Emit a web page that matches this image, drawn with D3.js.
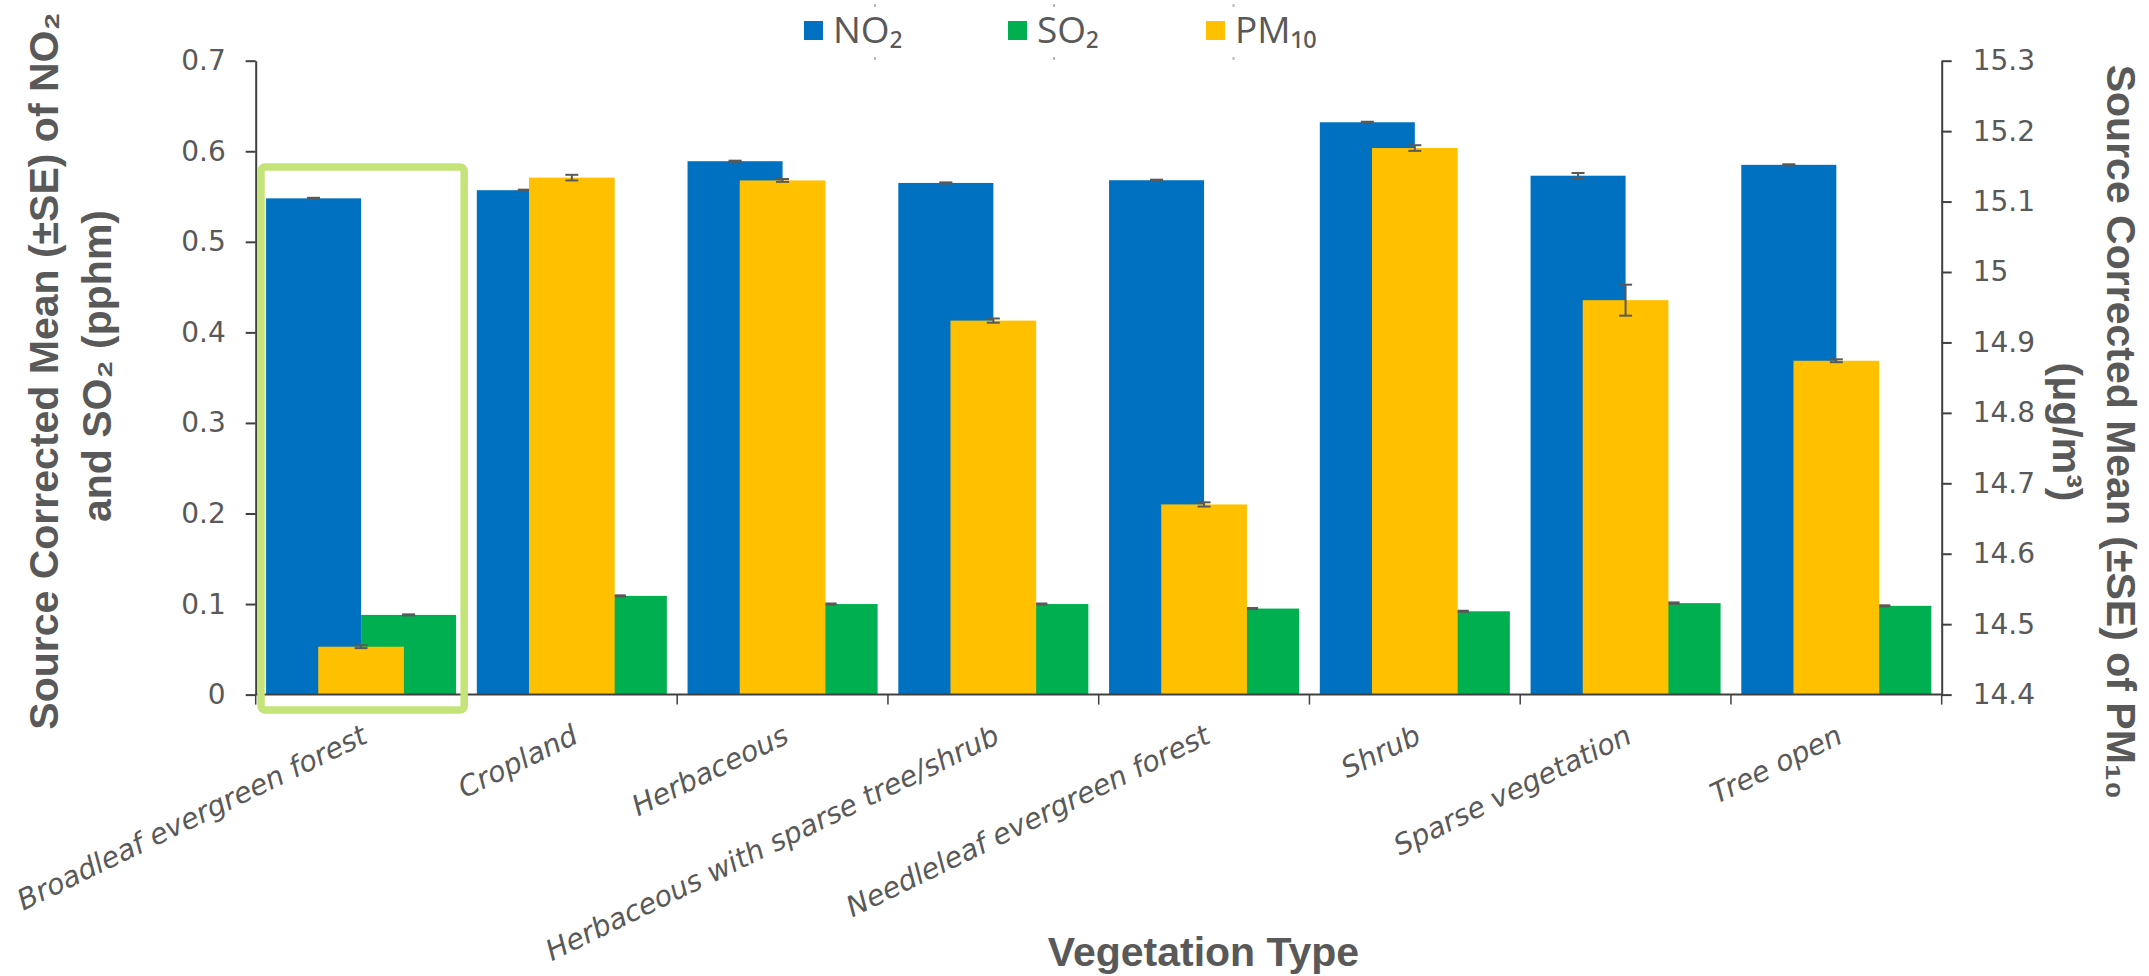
<!DOCTYPE html>
<html>
<head>
<meta charset="utf-8">
<script src="https://cdn.jsdelivr.net/npm/d3@7"></script>
<style>
  html, body { margin: 0; padding: 0; background: #ffffff; }
  svg { display: block; }
</style>
</head>
<body>
<svg id="chart" width="2149" height="976"></svg>
<script>
// Vegetation types along the category axis
const categories = [
  "Broadleaf evergreen forest",
  "Cropland",
  "Herbaceous",
  "Herbaceous with sparse tree/shrub",
  "Needleleaf evergreen forest",
  "Shrub",
  "Sparse vegetation",
  "Tree open"
];

// Source corrected means (pphm) on the left axis
const no2 = [0.548, 0.557, 0.589, 0.565, 0.568, 0.632, 0.573, 0.585];
const no2Se = [0.0006, 0.0006, 0.0006, 0.0006, 0.0006, 0.0006, 0.003, 0.0006];
const so2 = [0.088, 0.109, 0.100, 0.100, 0.095, 0.092, 0.101, 0.098];
const so2Se = [0.0006, 0.0006, 0.0006, 0.0006, 0.0006, 0.0006, 0.0008, 0.0006];

// Source corrected means (µg/m³) on the right axis
const pm10 = [14.468, 15.134, 15.130, 14.931, 14.670, 15.176, 14.960, 14.874];
const pm10Se = [0.002, 0.004, 0.002, 0.003, 0.003, 0.004, 0.022, 0.002];

// Axis ticks
const leftTicks = [0, 0.1, 0.2, 0.3, 0.4, 0.5, 0.6, 0.7];
const rightTicks = [14.4, 14.5, 14.6, 14.7, 14.8, 14.9, 15, 15.1, 15.2, 15.3];

// Category singled out with a frame
const highlighted = "Broadleaf evergreen forest";

const seriesNames = ["NO₂", "SO₂", "PM₁₀"];
const seriesColors = ["#0070C0", "#00B050", "#FFC000"];

// ---------------------------------------------------------------
const svg = d3.select("#chart");
const plot = { left: 255.7, right: 1941.7, top: 60.7, bottom: 694.6 };
const axisColor = "#404040";
const textColor = "#595959";
const tickFont = "'DejaVu Sans', Verdana, sans-serif";
const titleFont = "'Liberation Sans', Arial, sans-serif";

const x = d3.scaleBand().domain(categories).range([plot.left, plot.right]).padding(0);
const yLeft = d3.scaleLinear().domain([0, 0.7]).range([plot.bottom, plot.top]);
const yRight = d3.scaleLinear().domain([14.4, 15.3]).range([plot.bottom, plot.top]);

// NO2 and SO2 share a cluster; PM10 sits centred over it on its own axis
const cluster = d3.scaleBand().domain(["NO2", "SO2"]).range([0, x.bandwidth()])
  .paddingInner(0).paddingOuter(0.109);
const pmWidth = x.bandwidth() * 0.4066;

const rows = categories.map((c, i) => ({
  cat: c, no2: no2[i], no2Se: no2Se[i], so2: so2[i], so2Se: so2Se[i], pm10: pm10[i], pm10Se: pm10Se[i]
}));

function drawBars(key, color, xOff, width, yScale) {
  svg.append("g").selectAll("rect").data(rows).join("rect")
    .attr("x", d => x(d.cat) + xOff)
    .attr("width", width)
    .attr("y", d => yScale(d[key]))
    .attr("height", d => plot.bottom - yScale(d[key]))
    .attr("fill", color);
}

function drawErrors(key, seKey, xOff, width, yScale) {
  const g = svg.append("g").attr("stroke", "#595959").attr("stroke-width", 2).attr("fill", "none");
  const cap = 6.5;
  rows.forEach(d => {
    const cx = x(d.cat) + xOff + width / 2;
    const y1 = yScale(d[key] + d[seKey]);
    const y2 = yScale(d[key] - d[seKey]);
    g.append("line").attr("x1", cx).attr("x2", cx).attr("y1", y1).attr("y2", y2);
    g.append("line").attr("x1", cx - cap).attr("x2", cx + cap).attr("y1", y1).attr("y2", y1);
    g.append("line").attr("x1", cx - cap).attr("x2", cx + cap).attr("y1", y2).attr("y2", y2);
  });
}

drawBars("no2", seriesColors[0], cluster("NO2"), cluster.bandwidth(), yLeft);
drawBars("so2", seriesColors[1], cluster("SO2"), cluster.bandwidth(), yLeft);
drawErrors("no2", "no2Se", cluster("NO2"), cluster.bandwidth(), yLeft);
drawErrors("so2", "so2Se", cluster("SO2"), cluster.bandwidth(), yLeft);
const pmOff = (x.bandwidth() - pmWidth) / 2;
drawBars("pm10", seriesColors[2], pmOff, pmWidth, yRight);
drawErrors("pm10", "pm10Se", pmOff, pmWidth, yRight);

// Axes
function styleAxis(g) {
  g.selectAll(".domain").attr("stroke", axisColor).attr("stroke-width", 2);
  g.selectAll(".tick line").attr("stroke", axisColor).attr("stroke-width", 2);
  g.selectAll(".tick text").attr("fill", textColor)
    .style("font-family", tickFont).style("font-size", "28px");
}

const fmt = d3.format("~g");
svg.append("g").attr("transform", `translate(${plot.left},0)`)
  .call(d3.axisLeft(yLeft).tickValues(leftTicks).tickFormat(fmt).tickSize(10).tickSizeOuter(0).tickPadding(20))
  .call(styleAxis);

svg.append("g").attr("transform", `translate(${plot.right},0)`)
  .call(d3.axisRight(yRight).tickValues(rightTicks).tickFormat(fmt).tickSize(10).tickSizeOuter(0).tickPadding(21))
  .call(styleAxis);

// Category axis: boundary ticks between bands
const xAxisG = svg.append("g");
xAxisG.append("line")
  .attr("x1", plot.left).attr("x2", plot.right)
  .attr("y1", plot.bottom).attr("y2", plot.bottom)
  .attr("stroke", axisColor).attr("stroke-width", 2);
const bounds = categories.map(c => x(c)).concat([plot.right]);
xAxisG.selectAll("line.b").data(bounds).join("line").attr("class", "b")
  .attr("x1", d => d).attr("x2", d => d)
  .attr("y1", plot.bottom).attr("y2", plot.bottom + 10)
  .attr("stroke", axisColor).attr("stroke-width", 1.5);

xAxisG.selectAll("text").data(categories).join("text")
  .attr("transform", d => `translate(${x(d) + x.bandwidth() / 2 + 8},742) rotate(-26)`)
  .attr("text-anchor", "end")
  .attr("fill", textColor)
  .style("font-family", tickFont)
  .style("font-style", "italic")
  .style("font-size", "28.5px")
  .text(d => d);

// Frame around the highlighted category
const hx = x(highlighted);
svg.append("rect")
  .attr("x", hx + 5.3)
  .attr("y", 167)
  .attr("width", x.bandwidth() - 7.6)
  .attr("height", 543)
  .attr("rx", 4)
  .attr("fill", "none")
  .attr("stroke", "#C4E47A")
  .attr("stroke-width", 7.5);

// Axis titles
const titleStyle = s => s.attr("fill", textColor)
  .style("font-family", titleFont).style("font-weight", "bold").style("font-size", "41px")
  .attr("text-anchor", "middle");

svg.append("text").attr("transform", "translate(58,371) rotate(-90)")
  .call(titleStyle).text("Source Corrected Mean (±SE) of NO₂");
svg.append("text").attr("transform", "translate(110.5,366) rotate(-90)")
  .call(titleStyle).text("and SO₂ (pphm)");

svg.append("text").attr("transform", "translate(2107,432) rotate(90)")
  .call(titleStyle).text("Source Corrected Mean (±SE) of PM₁₀");
svg.append("text").attr("transform", "translate(2053,432) rotate(90)")
  .call(titleStyle).text("(μg/m³)");

svg.append("text").attr("x", 1203.5).attr("y", 966)
  .call(titleStyle).text("Vegetation Type");

// Legend
const legendX = [804, 1008, 1206];
const legend = svg.append("g");
seriesNames.forEach((name, i) => {
  legend.append("rect").attr("x", legendX[i]).attr("y", 21).attr("width", 19).attr("height", 19)
    .attr("fill", seriesColors[i]);
  legend.append("text").attr("x", legendX[i] + 29).attr("y", 42.7)
    .attr("fill", textColor)
    .style("font-family", "'Liberation Sans Narrow', 'Open Sans', sans-serif")
    .style("font-size", "37px")
    .text(name);
});
// legend frame handles
const handleX = [875, 1054, 1233.5];
handleX.forEach(hxp => {
  [4, 57].forEach(hy => {
    legend.append("rect").attr("x", hxp - 1).attr("y", hy).attr("width", 2).attr("height", 3).attr("fill", "#b8b8b8");
  });
});
</script>
</body>
</html>
